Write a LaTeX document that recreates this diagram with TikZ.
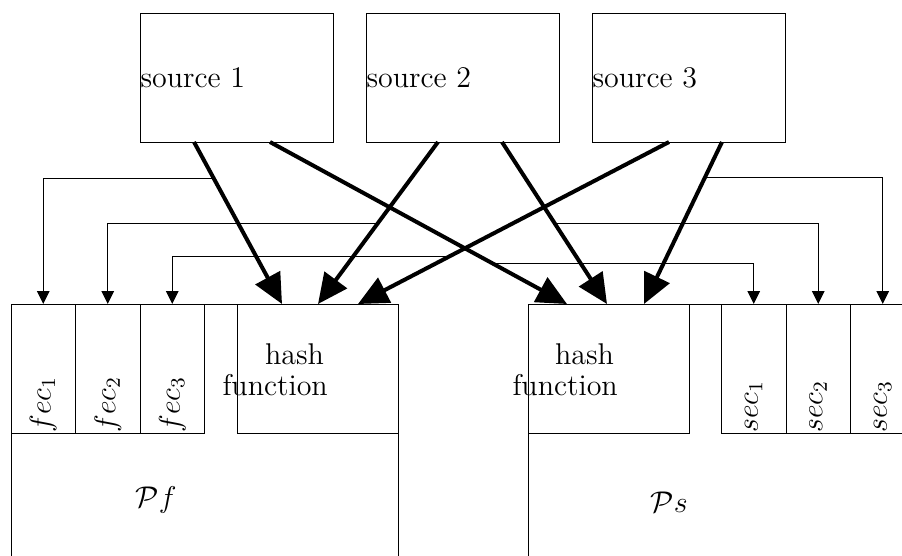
\documentclass[tikz,border=0pt]{standalone}
\usetikzlibrary{positioning,calc,arrows.meta}
\begin{document}
\begin{tikzpicture} [x = .4pt, y = -.4pt,
          font = \fontsize{12}{12.4}\selectfont,
          box/.style = {draw, rectangle, inner sep = 0, outer sep = 0, anchor = north west},
          srcbox/.style = {box, minimum width = 77.2pt, minimum height = 51.6pt},
          cell/.style = {box, minimum width = 25.8pt, minimum height = 51.6pt},
          hashbox/.style = {box, minimum width = 64.4pt, minimum height = 51.6pt},
          pbox/.style = {box, minimum width = 154.8pt, minimum height = 134pt},
          feed/.style = {line width = 1.6pt, -{Triangle[length = 12pt, width = 11pt]}},
          tap/.style = {-{Triangle[length = 5.2pt, width = 5pt]}},
          celltext/.style = {inner sep = 0, rotate = 90, anchor = west}]
          \useasboundingbox (0,0) rectangle (902,555);
          \clip (0,0) rectangle (902,555);
          \node[srcbox] (s1) at (140,13) {};
          \node[srcbox] (s2) at (366,13) {};
          \node[srcbox] (s3) at (592,13) {};
          \node[anchor = west, inner sep = 0] (ts1) at (s1.west) {source 1};
          \node[anchor = west, inner sep = 0] (ts2) at (s2.west) {source 2};
          \node[anchor = west, inner sep = 0] (ts3) at (s3.west) {source 3};
          \node[pbox] (pf) at (11,304) {};
          \node[cell] (fec1) at (pf.north west) {};
          \node[cell, right = 0pt of fec1] (fec2) {};
          \node[cell, right = 0pt of fec2] (fec3) {};
          \node[hashbox, anchor = north east] (h1) at (pf.north east) {};
          \node[pbox] (ps) at (528,304) {};
          \node[hashbox] (h2) at (ps.north west) {};
          \node[cell, anchor = north east] (sec3) at (ps.north east) {};
          \node[cell, left = 0pt of sec3] (sec2) {};
          \node[cell, left = 0pt of sec2] (sec1) {};
          \node[celltext] (tfec1) at (fec1.south) {$fec_1$};
          \node[celltext] (tfec2) at (fec2.south) {$fec_2$};
          \node[celltext] (tfec3) at (fec3.south) {$fec_3$};
          \node[celltext] (tsec1) at (sec1.south) {$sec_1$};
          \node[celltext] (tsec2) at (sec2.south) {$sec_2$};
          \node[celltext] (tsec3) at (sec3.south) {$sec_3$};
          \node[anchor = north west, inner sep = 0, align = left] (th1) at ($(h1.north west)+(-15,39)$) {\hspace*{17pt}hash\\function};
          \node[anchor = north west, inner sep = 0, align = left] (th2) at ($(h2.north west)+(-16,39)$) {\hspace*{17pt}hash\\function};
          \node (tpf) at (156,500) {$\mathcal{P}f$};
          \node (tps) at (669,502) {$\mathcal{P}s$};
          \draw[feed] ($(s1.south west)+(54,0)$) -- coordinate[pos = .224] (a1) ($(h1.north west)+(45,0)$);
          \draw[feed] ($(s1.south west)+(130,0)$) -- coordinate[pos = .75] (b1) ($(h2.north west)+(39,0)$);
          \draw[feed] ($(s2.south west)+(72,0)$) -- coordinate[pos = .5] (a2) ($(h1.north west)+(81,0)$);
          \draw[feed] ($(s2.south west)+(136,0)$) -- coordinate[pos = .5] (b2) ($(h2.north west)+(79,0)$);
          \draw[feed] ($(s3.south west)+(77,0)$) -- coordinate[pos = .708] (a3) ($(h1.north west)+(121,0)$);
          \draw[feed] ($(s3.south west)+(130,0)$) -- coordinate[pos = .217] (b3) ($(h2.north west)+(116,0)$);
          \draw[tap] (a1) -| (fec1.north);
          \draw[tap] (a2) -| (fec2.north);
          \draw[tap] (a3) -| (fec3.north);
          \draw[tap] (b1) -| (sec1.north);
          \draw[tap] (b2) -| (sec2.north);
          \draw[tap] (b3) -| (sec3.north);
        \end{tikzpicture}
\end{document}
